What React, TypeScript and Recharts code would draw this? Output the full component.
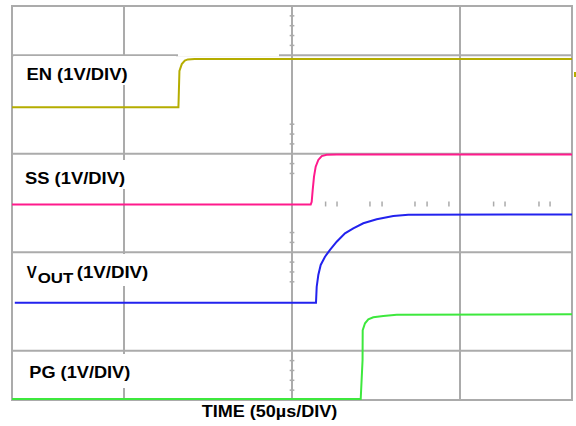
import { Line, LineChart, ReferenceArea, ReferenceLine, XAxis, YAxis } from "recharts";

// time in µs (50 µs/div, 0 at the centre graticule), level in divisions (0 = centre)
const T_MIN = -83.33;
const T_MAX = 83.33;
const DIV_MIN = -2;
const DIV_MAX = 2;

const gridTimes = [-50, 0, 50];
const gridDivs = [1.5, 0.5, -0.5, -1.5];

// small graticule marks on the centre axes
const centreTicksDiv = [1.9, 1.8, 1.7, 1.6, 0.8, 0.7, 0.6, 0.4, 0.3, -0.3, -0.4, -0.6, -0.7, -0.8, -1.6, -1.7, -1.8, -1.9];
const centreTicksTime = [10, 13.4, 23.2, 26.8, 36.6, 40.2, 46.7, 60, 63.4, 73.5, 76.8];

const enTime = [T_MIN, -33.8, -33.5, -32.8, -31.9, -31.0, -29.0, T_MAX];
const enDiv = [0.972, 0.972, 1.34, 1.41, 1.445, 1.458, 1.463, 1.463];

const ssTime = [T_MIN, 5.57, 5.86, 6.16, 6.55, 7.05, 7.83, 8.84, 10.33, 13.3, T_MAX];
const ssDiv = [-0.015, -0.015, 0.013, 0.132, 0.267, 0.369, 0.437, 0.477, 0.49, 0.492, 0.492];

const voutTime = [-82.5, 7.14, 7.35, 7.83, 8.54, 9.82, 11.31, 13.3, 15.77, 18.24, 21.22, 25.21, 30.15, 34.6, T_MAX];
const voutDiv = [-1.012, -1.012, -0.85, -0.731, -0.629, -0.545, -0.477, -0.393, -0.308, -0.257, -0.206, -0.165, -0.132, -0.119, -0.117];

const pgTime = [T_MIN, 20.45, 21.0, 21.04, 21.73, 22.71, 24.2, 27.17, 31.16, T_MAX];
const pgDiv = [-1.99, -1.99, -1.594, -1.29, -1.221, -1.181, -1.16, -1.147, -1.134, -1.13];

const toPoints = (ts: number[], vs: number[]) => ts.map((t, i) => ({ t, v: vs[i] }));

const channels = [
  { name: "EN", data: toPoints(enTime, enDiv), color: "#b5ad00" },
  { name: "SS", data: toPoints(ssTime, ssDiv), color: "#ff1a8c" },
  { name: "VOUT", data: toPoints(voutTime, voutDiv), color: "#2222ee" },
  { name: "PG", data: toPoints(pgTime, pgDiv), color: "#3de83d" },
];

const GRID = "#ababab";
const font = { fontFamily: "'Liberation Sans', Arial, sans-serif", fontWeight: 700, fill: "#000" };

function Labels() {
  return (
    <svg width={576} height={426} style={{ position: "absolute", left: 0, top: 0, pointerEvents: "none" }}>
      {/* white boxes behind channel labels */}
      <rect x={14} y={56} width={162} height={29} fill="#fff" />
      <rect x={178} y={53} width={101} height={3.5} fill="#fff" />
      <rect x={14} y={160} width={149} height={29} fill="#fff" />
      <rect x={14} y={254} width={173} height={32} fill="#fff" />
      <rect x={14} y={354} width={152} height={34} fill="#fff" />
      <rect x={574} y={72} width={2} height={5} fill="#b5ad00" />

      <text x={26.5} y={79.5} fontSize={16} textLength={101} lengthAdjust="spacingAndGlyphs" {...font}>
        EN (1V/DIV)
      </text>
      <text x={25} y={183.5} fontSize={16} textLength={100} lengthAdjust="spacingAndGlyphs" {...font}>
        SS (1V/DIV)
      </text>
      <text x={26.7} y={278} fontSize={16} textLength={10} lengthAdjust="spacingAndGlyphs" {...font}>
        V
      </text>
      <text x={37.7} y={283.3} fontSize={15} textLength={35.6} lengthAdjust="spacingAndGlyphs" {...font}>
        OUT
      </text>
      <text x={76.7} y={278} fontSize={16} textLength={71.6} lengthAdjust="spacingAndGlyphs" {...font}>
        (1V/DIV)
      </text>
      <text x={29.3} y={377.5} fontSize={16} textLength={101} lengthAdjust="spacingAndGlyphs" {...font}>
        PG (1V/DIV)
      </text>
      <text x={201.7} y={416.5} fontSize={16} textLength={135.6} lengthAdjust="spacingAndGlyphs" {...font}>
        TIME (50µs/DIV)
      </text>
    </svg>
  );
}

export default function App() {
  return (
    <div style={{ position: "absolute", left: 0, top: 0, width: 576, height: 426, background: "#fff" }}>
      <LineChart width={576} height={426} margin={{ top: 6, right: 4, bottom: 26, left: 12 }}>
        <XAxis type="number" dataKey="t" domain={[T_MIN, T_MAX]} allowDataOverflow hide />
        <YAxis type="number" dataKey="v" domain={[DIV_MIN, DIV_MAX]} allowDataOverflow hide />
        {gridTimes.map((t) => (
          <ReferenceLine key={`gx${t}`} x={t} stroke={GRID} strokeWidth={2} />
        ))}
        {gridDivs.map((d) => (
          <ReferenceLine key={`gy${d}`} y={d} stroke={GRID} strokeWidth={2} />
        ))}
        {centreTicksDiv.map((d) => (
          <ReferenceLine
            key={`cy${d}`}
            segment={[
              { x: -0.7, y: d },
              { x: 0.7, y: d },
            ]}
            stroke={GRID}
            strokeWidth={1.5}
          />
        ))}
        {centreTicksTime.map((t) => (
          <ReferenceLine
            key={`cx${t}`}
            segment={[
              { x: t, y: -0.035 },
              { x: t, y: 0.015 },
            ]}
            stroke={GRID}
            strokeWidth={1.5}
          />
        ))}
        <ReferenceArea x1={T_MIN} x2={T_MAX} y1={DIV_MIN} y2={DIV_MAX} fill="none" stroke={GRID} strokeWidth={2} />
        {channels.map((c) => (
          <Line
            key={c.name}
            data={c.data}
            dataKey="v"
            type="linear"
            stroke={c.color}
            strokeWidth={2}
            dot={false}
            activeDot={false}
            isAnimationActive={false}
          />
        ))}
      </LineChart>
      <Labels />
    </div>
  );
}
